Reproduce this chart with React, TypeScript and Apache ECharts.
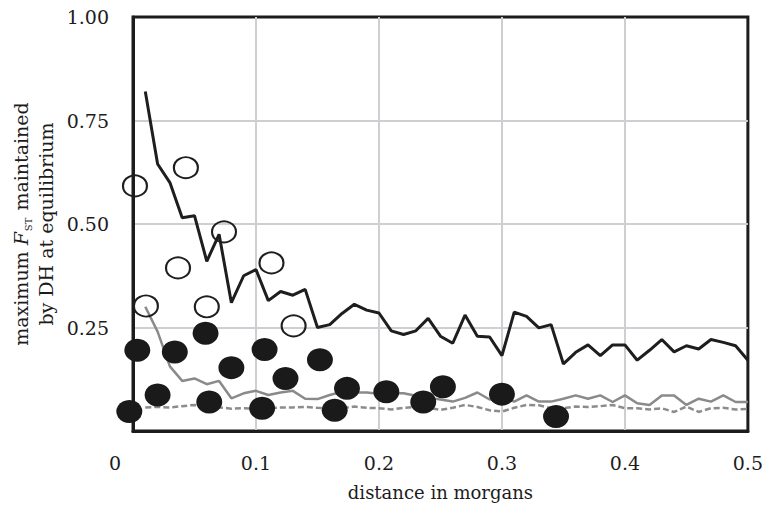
import React, { useEffect, useRef } from "react";
import * as echarts from "echarts";

const distances = [
  0.01, 0.02, 0.03, 0.04, 0.05, 0.06, 0.07, 0.08, 0.09, 0.1,
  0.11, 0.12, 0.13, 0.14, 0.15, 0.16, 0.17, 0.18, 0.19, 0.2,
  0.21, 0.22, 0.23, 0.24, 0.25, 0.26, 0.27, 0.28, 0.29, 0.3,
  0.31, 0.32, 0.33, 0.34, 0.35, 0.36, 0.37, 0.38, 0.39, 0.4,
  0.41, 0.42, 0.43, 0.44, 0.45, 0.46, 0.47, 0.48, 0.49, 0.5,
];

const upperLine = [
  0.82, 0.645, 0.6, 0.515, 0.52, 0.41, 0.475, 0.31, 0.375, 0.39,
  0.315, 0.337, 0.328, 0.342, 0.25, 0.257, 0.284, 0.306, 0.292, 0.285,
  0.242, 0.233, 0.242, 0.272, 0.229, 0.212, 0.28, 0.229, 0.227, 0.182,
  0.287, 0.277, 0.249, 0.257, 0.162, 0.19, 0.208, 0.182, 0.208, 0.208,
  0.171, 0.195, 0.221, 0.191, 0.206, 0.198, 0.221, 0.214, 0.206, 0.171,
];

const middleLine = [
  0.3, 0.24, 0.156, 0.121, 0.127, 0.113, 0.121, 0.079, 0.091, 0.097,
  0.087, 0.093, 0.097, 0.078, 0.077, 0.087, 0.095, 0.093, 0.093, 0.09,
  0.091, 0.091, 0.085, 0.08, 0.076, 0.071, 0.08, 0.093, 0.076, 0.08,
  0.071, 0.086, 0.071, 0.071, 0.078, 0.086, 0.078, 0.086, 0.07, 0.086,
  0.067, 0.063, 0.086, 0.086, 0.063, 0.078, 0.071, 0.086, 0.07, 0.07,
];

const dashedLine = [
  0.057, 0.058, 0.057, 0.06, 0.063, 0.058, 0.057, 0.054, 0.055, 0.054,
  0.055, 0.057, 0.057, 0.058, 0.056, 0.055, 0.055, 0.059, 0.056, 0.055,
  0.052, 0.056, 0.058, 0.056, 0.051, 0.056, 0.063, 0.058, 0.05, 0.047,
  0.056, 0.063, 0.062, 0.055, 0.055, 0.059, 0.058, 0.06, 0.063, 0.055,
  0.055, 0.052, 0.055, 0.046, 0.059, 0.046, 0.055, 0.056, 0.052, 0.053,
];

const openCircles: [number, number][] = [
  [0.0016, 0.592], [0.043, 0.636], [0.0366, 0.394], [0.074, 0.481],
  [0.0105, 0.302], [0.06, 0.3], [0.1126, 0.406], [0.1306, 0.254],
];

const filledCircles: [number, number][] = [
  [0.0035, 0.195], [0.02, 0.087], [-0.003, 0.047], [0.034, 0.191],
  [0.059, 0.236], [0.062, 0.07], [0.08, 0.153], [0.107, 0.197],
  [0.105, 0.055], [0.124, 0.127], [0.152, 0.172], [0.164, 0.05],
  [0.174, 0.103], [0.206, 0.095], [0.236, 0.07], [0.252, 0.107],
  [0.3, 0.089], [0.344, 0.035],
];

const xTicks = [0, 0.1, 0.2, 0.3, 0.4, 0.5];
const yTicks = [0, 0.25, 0.5, 0.75, 1.0];

const FONT = "DejaVu Serif";
const INK = "#1c1c1c";

export default function App() {
  const ref = useRef<HTMLDivElement>(null);
  useEffect(() => {
    if (!ref.current) return;
    const chart = echarts.init(ref.current, undefined, { renderer: "svg" });
    const pair = (ys: number[]) => distances.map((d, i) => [d, ys[i]]);
    chart.setOption({
      animation: false,
      grid: {
        left: 133,
        top: 17,
        width: 620,
        height: 416,
        show: true,
        borderColor: INK,
        borderWidth: 3,
        backgroundColor: "#ffffff",
      },
      xAxis: {
        type: "value",
        min: xTicks[0],
        max: xTicks[xTicks.length - 1],
        interval: 0.1,
        name: "distance in morgans",
        nameLocation: "middle",
        nameGap: 52,
        nameTextStyle: { fontFamily: FONT, fontSize: 18, color: INK },
        axisLine: { show: true, lineStyle: { color: INK, width: 3 } },
        axisTick: { show: false },
        axisLabel: {
          margin: 22,
          fontFamily: FONT,
          fontSize: 19,
          color: INK,
          formatter: (v: number) => (v === 0 ? "{z|0}" : String(Math.round(v * 10) / 10)),
          rich: {
            z: { fontFamily: FONT, fontSize: 19, color: INK, padding: [0, 36, 0, 0] },
          },
        },
        splitLine: {
          show: true,
          showMinLine: false,
          showMaxLine: false,
          lineStyle: { color: "#cfcfd3", width: 2 },
        },
      },
      yAxis: {
        type: "value",
        min: yTicks[0],
        max: yTicks[yTicks.length - 1],
        interval: 0.25,
        name: "{a|maximum }{i|F}{s|ST}{a| maintained}\n{a|by DH at equilibrium}",
        nameLocation: "middle",
        nameRotate: 90,
        nameGap: 74,
        nameTextStyle: {
          fontFamily: FONT,
          fontSize: 19,
          color: INK,
          rich: {
            a: { fontFamily: FONT, fontSize: 19, color: INK, lineHeight: 25 },
            i: { fontFamily: FONT, fontSize: 19, color: INK, fontStyle: "italic", lineHeight: 25 },
            s: {
              fontFamily: FONT,
              fontSize: 10,
              color: INK,
              lineHeight: 11,
              verticalAlign: "bottom",
              padding: [0, 1, 0, 1],
            },
          },
        },
        axisLine: { show: true, lineStyle: { color: INK, width: 3 } },
        axisTick: { show: false },
        axisLabel: {
          margin: 24,
          fontFamily: FONT,
          fontSize: 19,
          color: INK,
          formatter: (v: number) => (v === 0 ? "" : v.toFixed(2)),
        },
        splitLine: {
          show: true,
          showMinLine: false,
          showMaxLine: false,
          lineStyle: { color: "#cfcfd3", width: 2 },
        },
      },
      series: [
        {
          type: "line",
          data: pair(dashedLine),
          showSymbol: false,
          lineStyle: { color: "#8c8c8c", width: 2.5, type: [6, 3] },
          z: 2,
        },
        {
          type: "line",
          data: pair(middleLine),
          showSymbol: false,
          lineStyle: { color: "#8a8a8a", width: 2.5 },
          z: 3,
        },
        {
          type: "line",
          data: pair(upperLine),
          showSymbol: false,
          lineStyle: { color: "#1e1e1e", width: 3 },
          z: 4,
        },
        {
          type: "scatter",
          data: openCircles,
          symbol: "circle",
          symbolSize: [24, 21],
          clip: false,
          itemStyle: { color: "transparent", borderColor: "#1e1e1e", borderWidth: 2, opacity: 1 },
          z: 5,
        },
        {
          type: "scatter",
          data: filledCircles,
          symbol: "circle",
          symbolSize: [26, 23],
          clip: false,
          itemStyle: { color: "#1a1a1a", opacity: 1 },
          z: 6,
        },
      ],
    });
    return () => chart.dispose();
  }, []);
  return (
    <div
      ref={ref}
      style={{ position: "fixed", left: 0, top: 0, width: 766, height: 506, background: "#fff" }}
    />
  );
}
